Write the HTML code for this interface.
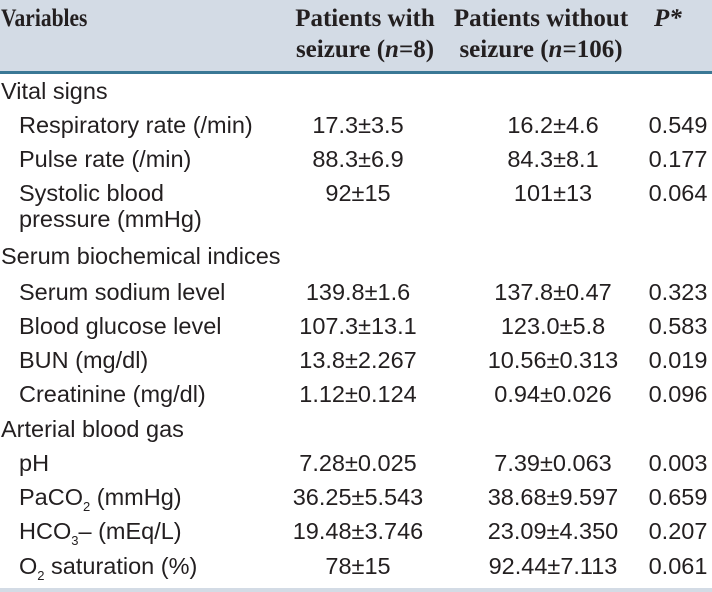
<!DOCTYPE html>
<html><head><meta charset="utf-8"><style>
body{margin:0;width:712px;height:592px;background:#fff;position:relative;overflow:hidden;font-family:"Liberation Sans",Arial,sans-serif;color:#231f20}
.hd{position:absolute;left:0;top:0;width:712px;height:71px;background:#d3dbe5}
.hl{position:absolute;left:0;top:71px;width:712px;height:3px;background:#3a7895}
.bl{position:absolute;left:0;top:588px;width:712px;height:4px;background:#d3dbe5}
.h{position:absolute;font-family:"Liberation Serif",serif;font-weight:bold;font-size:25px;line-height:31px;white-space:nowrap}
.t{position:absolute;font-size:23.5px;line-height:26px;white-space:nowrap}
.l{left:19px}.g{left:1px}
.c2{left:258px;width:200px;text-align:center}
.c3{left:453px;width:200px;text-align:center}
.c4{left:628px;width:100px;text-align:center}
sub{font-size:13px;line-height:0;vertical-align:-6px}
</style></head><body>
<div class="hd"></div>
<div class="hl"></div>
<div class="bl"></div>
<div class="h" style="left:1px;top:3px;transform:scaleX(0.86);transform-origin:left">Variables</div>
<div class="h" style="left:285px;top:3px;text-align:center;width:160px">Patients with<br>seizure (<i>n</i>=8)</div>
<div class="h" style="left:441px;top:3px;text-align:center;width:200px">Patients without<br>seizure (<i>n</i>=106)</div>
<div class="h" style="left:654px;top:3px;font-style:italic">P*</div>

<div class="t g" style="top:78px">Vital signs</div>
<div class="t l" style="top:112px">Respiratory rate (/min)</div>
<div class="t c2" style="top:112px">17.3±3.5</div>
<div class="t c3" style="top:112px">16.2±4.6</div>
<div class="t c4" style="top:112px">0.549</div>
<div class="t l" style="top:146px">Pulse rate (/min)</div>
<div class="t c2" style="top:146px">88.3±6.9</div>
<div class="t c3" style="top:146px">84.3±8.1</div>
<div class="t c4" style="top:146px">0.177</div>
<div class="t l" style="top:180px">Systolic blood<br>pressure (mmHg)</div>
<div class="t c2" style="top:180px">92±15</div>
<div class="t c3" style="top:180px">101±13</div>
<div class="t c4" style="top:180px">0.064</div>

<div class="t g" style="top:243px">Serum biochemical indices</div>
<div class="t l" style="top:279px">Serum sodium level</div>
<div class="t c2" style="top:279px">139.8±1.6</div>
<div class="t c3" style="top:279px">137.8±0.47</div>
<div class="t c4" style="top:279px">0.323</div>
<div class="t l" style="top:313px">Blood glucose level</div>
<div class="t c2" style="top:313px">107.3±13.1</div>
<div class="t c3" style="top:313px">123.0±5.8</div>
<div class="t c4" style="top:313px">0.583</div>
<div class="t l" style="top:347px">BUN (mg/dl)</div>
<div class="t c2" style="top:347px">13.8±2.267</div>
<div class="t c3" style="top:347px">10.56±0.313</div>
<div class="t c4" style="top:347px">0.019</div>
<div class="t l" style="top:381px">Creatinine (mg/dl)</div>
<div class="t c2" style="top:381px">1.12±0.124</div>
<div class="t c3" style="top:381px">0.94±0.026</div>
<div class="t c4" style="top:381px">0.096</div>

<div class="t g" style="top:416px">Arterial blood gas</div>
<div class="t l" style="top:450px">pH</div>
<div class="t c2" style="top:450px">7.28±0.025</div>
<div class="t c3" style="top:450px">7.39±0.063</div>
<div class="t c4" style="top:450px">0.003</div>
<div class="t l" style="top:484px">PaCO<sub>2</sub> (mmHg)</div>
<div class="t c2" style="top:484px">36.25±5.543</div>
<div class="t c3" style="top:484px">38.68±9.597</div>
<div class="t c4" style="top:484px">0.659</div>
<div class="t l" style="top:518px">HCO<sub>3</sub>– (mEq/L)</div>
<div class="t c2" style="top:518px">19.48±3.746</div>
<div class="t c3" style="top:518px">23.09±4.350</div>
<div class="t c4" style="top:518px">0.207</div>
<div class="t l" style="top:553px">O<sub>2</sub> saturation (%)</div>
<div class="t c2" style="top:553px">78±15</div>
<div class="t c3" style="top:553px">92.44±7.113</div>
<div class="t c4" style="top:553px">0.061</div>
</body></html>
